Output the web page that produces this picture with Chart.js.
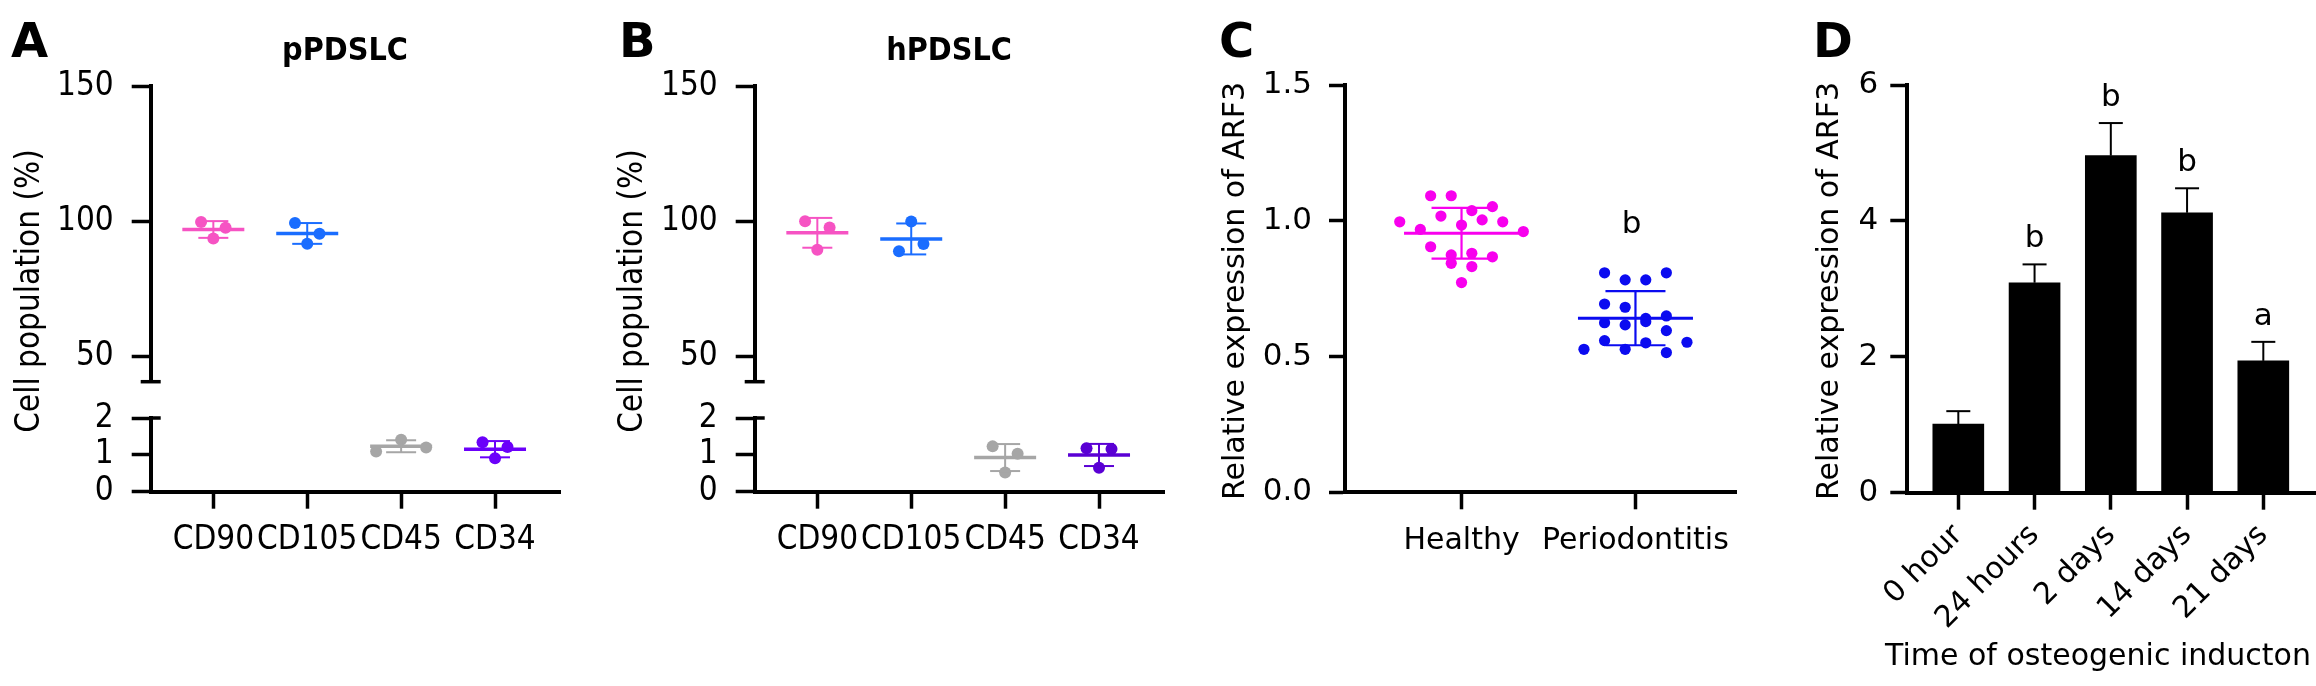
<!DOCTYPE html>
<html>
<head>
<meta charset="utf-8">
<title>ARF3 figure</title>
<script src="https://cdn.jsdelivr.net/npm/chart.js@4/dist/chart.umd.min.js"></script>
<style>
  html, body { margin: 0; padding: 0; background: #ffffff; }
  body { width: 2316px; height: 686px; position: relative; overflow: hidden; }
  .panel { position: absolute; top: 0; height: 686px; }
</style>
</head>
<body>
<div class="panel" style="left:0px;width:580px"><canvas id="aTop"></canvas></div>
<div class="panel" style="left:0px;width:580px"><canvas id="aBot"></canvas></div>
<div class="panel" style="left:604px;width:580px"><canvas id="bTop"></canvas></div>
<div class="panel" style="left:604px;width:580px"><canvas id="bBot"></canvas></div>
<div class="panel" style="left:1190px;width:560px"><canvas id="c"></canvas></div>
<div class="panel" style="left:1790px;width:526px"><canvas id="d"></canvas></div>
<script>
// ---------------- DATA ----------------
const AB_CATEGORIES = ['CD90', 'CD105', 'CD45', 'CD34'];
const A_CD90  = [99.6, 97.5, 93.5];
const A_CD105 = [99.3, 95.3, 91.6];
const A_CD45  = [1.09, 1.41, 1.20];
const A_CD34  = [1.34, 1.21, 0.91];
const B_CD90  = [99.9, 97.6, 89.4];
const B_CD105 = [99.8, 88.8, 91.5];
const B_CD45  = [1.23, 1.03, 0.52];
const B_CD34  = [1.18, 1.16, 0.65];
const AB_UPPER_TICKS = [50, 100, 150];
const AB_LOWER_TICKS = [0, 1, 2];

const C_CATEGORIES = ['Healthy', 'Periodontitis'];
const C_HEALTHY = [1.093, 1.093, 1.038, 1.053, 0.997, 0.969, 1.018, 0.985, 1.004, 0.997,
                   0.961, 0.905, 0.875, 0.844, 0.881, 0.832, 0.868, 0.773];
const C_PERIODONTITIS = [0.809, 0.783, 0.783, 0.809, 0.694, 0.682, 0.625, 0.641, 0.650,
                         0.617, 0.629, 0.596, 0.527, 0.559, 0.527, 0.551, 0.515, 0.553];
const C_TICKS = [0, 0.5, 1.0, 1.5];
const C_SIG = ['', 'b'];

const D_CATEGORIES = ['0 hour', '24 hours', '2 days', '14 days', '21 days'];
const D_MEANS = [1.01, 3.09, 4.96, 4.12, 1.94];
const D_SD    = [0.19, 0.27, 0.48, 0.36, 0.28];
const D_SIG   = ['', 'b', 'b', 'b', 'a'];
const D_TICKS = [0, 2, 4, 6];

// ---------------- STYLE ----------------
const F_COND = "'DejaVu Sans Condensed', 'DejaVu Sans', sans-serif";
const F_REG = "'DejaVu Sans', sans-serif";
const PINK = '#f653c3', BLUE = '#1a6dff', GREY = '#a6a6a6', VIOLET_A = '#6b00fa', VIOLET_B = '#5a00d4';
const MAGENTA = '#f800ee', ROYAL = '#0b0bf0';
const AB_STYLE = { meanHalf: 31, meanWidth: 3.5, errWidth: 2, capHalf: 15 };
const C_STYLE = { meanHalf: 57.5, meanWidth: 3, errWidth: 2.2, capHalf: 30 };

Chart.defaults.animation = false;
Chart.defaults.events = [];
Chart.defaults.responsive = true;
Chart.defaults.maintainAspectRatio = false;
Chart.defaults.color = '#000';
Chart.defaults.font.family = F_REG;
Chart.defaults.plugins.legend.display = false;
Chart.defaults.plugins.tooltip.enabled = false;

// ---------------- HELPERS ----------------
const mean = a => a.reduce((s, v) => s + v, 0) / a.length;
const sdev = a => { const m = mean(a); return Math.sqrt(a.reduce((s, v) => s + (v - m) * (v - m), 0) / (a.length - 1)); };
function seg(ctx, x1, y1, x2, y2, w) { ctx.lineWidth = w; ctx.beginPath(); ctx.moveTo(x1, y1); ctx.lineTo(x2, y2); ctx.stroke(); }

function yScale(o) {
  return {
    type: 'linear', position: 'left', min: o.min, max: o.max,
    afterBuildTicks: s => { s.ticks = o.ticks.map(v => ({ value: v })); },
    afterFit: s => { s.width = o.width; },
    grid: { display: true, drawOnChartArea: false, drawTicks: true, tickLength: o.tickLength, tickWidth: 3.5, tickColor: '#000' },
    border: { display: true, color: '#000', width: 4 },
    ticks: { color: '#000', font: { family: o.family, size: o.size }, padding: o.padding, autoSkip: false,
             callback: v => (o.decimals ? Number(v).toFixed(o.decimals) : String(v)) }
  };
}
function xScale(o) {
  return {
    type: 'linear', position: 'bottom', min: o.min, max: o.max, display: o.display !== false, offset: false,
    afterBuildTicks: s => { s.ticks = o.cats.map((c, i) => ({ value: i })); },
    afterFit: s => { if (o.height) s.height = o.height; },
    grid: { display: true, offset: false, drawOnChartArea: false, drawTicks: true, tickLength: o.tickLength || 17, tickWidth: 3.5, tickColor: '#000' },
    border: { display: true, color: '#000', width: 4 },
    ticks: { color: '#000', font: { family: o.family, size: o.size }, padding: o.padding || 0, autoSkip: false,
             maxRotation: o.rotation || 0, minRotation: o.rotation || 0, callback: v => o.cats[v] }
  };
}
const pointDataset = r => g => ({
  data: g.values.map(v => ({ x: g.index, y: v })),
  backgroundColor: g.color, borderColor: g.color, borderWidth: 0,
  pointRadius: r, pointHoverRadius: r, showLine: false
});

// GraphPad-like scatter arrangement: points whose pixel heights fall in one band share a row
function swarmOffsets(values, ys, step, rowSpan) {
  const items = values.map((v, i) => ({ i, py: ys.getPixelForValue(v) })).sort((a, b) => a.py - b.py || a.i - b.i);
  const off = values.map(() => 0);
  let k = 0;
  while (k < items.length) {
    const start = items[k].py, row = [];
    while (k < items.length && items[k].py - start < rowSpan) { row.push(items[k]); k++; }
    row.sort((a, b) => a.i - b.i);
    row.forEach((it, j) => { off[it.i] = (j - (row.length - 1) / 2) * step; });
  }
  return off;
}
function applySwarm(chart, groups, step, rowSpan) {
  const xs = chart.scales.x, ys = chart.scales.y;
  const ppu = xs.getPixelForValue(1) - xs.getPixelForValue(0);
  groups.forEach((g, d) => {
    const off = swarmOffsets(g.values, ys, step, rowSpan);
    chart.data.datasets[d].data = g.values.map((v, i) => ({ x: g.index + off[i] / ppu, y: v }));
  });
  chart.update('none');
}

function statsPlugin(groups, st) {
  return {
    id: 'meanSd',
    afterDatasetsDraw(chart) {
      const ctx = chart.ctx, xs = chart.scales.x, ys = chart.scales.y;
      groups.forEach(g => {
        const m = mean(g.values), s = sdev(g.values);
        const cx = xs.getPixelForValue(g.index);
        const ym = ys.getPixelForValue(m), yt = ys.getPixelForValue(m + s), yb = ys.getPixelForValue(m - s);
        ctx.save();
        ctx.strokeStyle = g.color; ctx.lineCap = 'butt';
        seg(ctx, cx - st.meanHalf, ym, cx + st.meanHalf, ym, st.meanWidth);
        seg(ctx, cx, yt, cx, yb, st.errWidth);
        seg(ctx, cx - st.capHalf, yt, cx + st.capHalf, yt, st.errWidth);
        seg(ctx, cx - st.capHalf, yb, cx + st.capHalf, yb, st.errWidth);
        ctx.restore();
      });
    }
  };
}
function breakCapPlugin(edge) {
  return {
    id: 'breakCap',
    afterDraw(chart) {
      const a = chart.chartArea, ctx = chart.ctx;
      const y = edge === 'bottom' ? a.bottom : a.top;
      ctx.save(); ctx.strokeStyle = '#000';
      seg(ctx, a.left - (edge === 'bottom' ? 10 : 0), y, a.left + 10, y, 3.5);
      ctx.restore();
    }
  };
}
function textPlugin(divLeft, items) {
  return {
    id: 'texts',
    afterDraw(chart) {
      const ctx = chart.ctx;
      items.forEach(t => {
        ctx.save();
        ctx.font = (t.bold ? 'bold ' : '') + t.size + 'px ' + t.family;
        ctx.fillStyle = '#000';
        ctx.textAlign = t.align || 'center';
        ctx.textBaseline = t.baseline || 'alphabetic';
        ctx.translate(t.x - divLeft, t.y);
        if (t.rotate) ctx.rotate(t.rotate);
        ctx.fillText(t.text, 0, 0);
        ctx.restore();
      });
    }
  };
}

// ---------------- PANELS A & B ----------------
const AB_X = { min: -0.667, max: 3.692 };
function buildAB(prefix, divLeft, groupsTop, groupsBottom, texts) {
  const top = new Chart(document.getElementById(prefix + 'Top'), {
    type: 'scatter',
    data: { datasets: groupsTop.map(pointDataset(6)) },
    options: {
      layout: { padding: { left: 40.7, right: 20, top: 86, bottom: 304.3 } },
      scales: {
        x: xScale({ ...AB_X, cats: AB_CATEGORIES, display: false }),
        y: yScale({ min: 40.5, max: 150, ticks: AB_UPPER_TICKS, width: 110, tickLength: 19, padding: 18, family: F_COND, size: 33 })
      }
    },
    plugins: [statsPlugin(groupsTop, AB_STYLE), breakCapPlugin('bottom'), textPlugin(divLeft, texts)]
  });
  const bot = new Chart(document.getElementById(prefix + 'Bot'), {
    type: 'scatter',
    data: { datasets: groupsBottom.map(pointDataset(6)) },
    options: {
      layout: { padding: { left: 40.7, right: 20, top: 418, bottom: 94.3 } },
      scales: {
        x: xScale({ ...AB_X, cats: AB_CATEGORIES, height: 100, padding: 12, family: F_COND, size: 33, tickLength: 17 }),
        y: yScale({ min: 0, max: 2, ticks: AB_LOWER_TICKS, width: 110, tickLength: 19, padding: 18, family: F_COND, size: 33 })
      }
    },
    plugins: [statsPlugin(groupsBottom, AB_STYLE), breakCapPlugin('top')]
  });
  applySwarm(top, groupsTop, 24.5, 15.5);
  applySwarm(bot, groupsBottom, 25, 15.5);
}

buildAB('a', 0,
  [{ index: 0, values: A_CD90, color: PINK }, { index: 1, values: A_CD105, color: BLUE }],
  [{ index: 2, values: A_CD45, color: GREY }, { index: 3, values: A_CD34, color: VIOLET_A }],
  [
    { text: 'A', x: 11, y: 57, size: 48, bold: true, family: F_REG, align: 'left' },
    { text: 'pPDSLC', x: 345, y: 60, size: 32, bold: true, family: F_COND },
    { text: 'Cell population (%)', x: 30.5, y: 291, size: 33, family: F_COND, rotate: -Math.PI / 2, baseline: 'middle' }
  ]);
buildAB('b', 604,
  [{ index: 0, values: B_CD90, color: PINK }, { index: 1, values: B_CD105, color: BLUE }],
  [{ index: 2, values: B_CD45, color: GREY }, { index: 3, values: B_CD34, color: VIOLET_B }],
  [
    { text: 'B', x: 619, y: 57, size: 48, bold: true, family: F_REG, align: 'left' },
    { text: 'hPDSLC', x: 949, y: 60, size: 32, bold: true, family: F_COND },
    { text: 'Cell population (%)', x: 633, y: 291, size: 33, family: F_COND, rotate: -Math.PI / 2, baseline: 'middle' }
  ]);

// ---------------- PANEL C ----------------
const C_GROUPS = [
  { index: 0, values: C_HEALTHY, color: MAGENTA },
  { index: 1, values: C_PERIODONTITIS, color: ROYAL }
];
const cSigPlugin = {
  id: 'cSig',
  afterDatasetsDraw(chart) {
    const ctx = chart.ctx, xs = chart.scales.x, ys = chart.scales.y;
    C_GROUPS.forEach((g, i) => {
      if (!C_SIG[i]) return;
      ctx.save();
      ctx.font = '31px ' + F_REG; ctx.fillStyle = '#000'; ctx.textAlign = 'center'; ctx.textBaseline = 'alphabetic';
      ctx.fillText(C_SIG[i], xs.getPixelForValue(g.index) - 4, ys.getPixelForValue(Math.max(...g.values)) - 40);
      ctx.restore();
    });
  }
};
const chartC = new Chart(document.getElementById('c'), {
  type: 'scatter',
  data: { datasets: C_GROUPS.map(pointDataset(5.6)) },
  options: {
    layout: { padding: { left: 45, right: 14, top: 85.3, bottom: 93.7 } },
    scales: {
      x: xScale({ min: -0.67, max: 1.578, cats: C_CATEGORIES, height: 100, padding: 14, family: F_REG, size: 30, tickLength: 17 }),
      y: yScale({ min: 0, max: 1.5, ticks: C_TICKS, width: 110, tickLength: 16, padding: 17, family: F_REG, size: 31, decimals: 1 })
    }
  },
  plugins: [statsPlugin(C_GROUPS, C_STYLE), cSigPlugin, textPlugin(1190, [
    { text: 'C', x: 1219, y: 57, size: 48, bold: true, family: F_REG, align: 'left' },
    { text: 'Relative expression of ARF3', x: 1236, y: 291, size: 30, family: F_REG, rotate: -Math.PI / 2, baseline: 'middle' }
  ])]
});
applySwarm(chartC, C_GROUPS, 20.6, 15.5);

// ---------------- PANEL D ----------------
const dErrPlugin = {
  id: 'dErr',
  afterDatasetsDraw(chart) {
    const ctx = chart.ctx, xs = chart.scales.x, ys = chart.scales.y;
    D_MEANS.forEach((m, i) => {
      const cx = xs.getPixelForValue(i), yTop = ys.getPixelForValue(m + D_SD[i]), yBar = ys.getPixelForValue(m);
      ctx.save(); ctx.strokeStyle = '#000';
      seg(ctx, cx, yBar, cx, yTop, 2);
      seg(ctx, cx - 12, yTop, cx + 12, yTop, 2);
      if (D_SIG[i]) {
        ctx.font = '31px ' + F_REG; ctx.fillStyle = '#000'; ctx.textAlign = 'center'; ctx.textBaseline = 'alphabetic';
        ctx.fillText(D_SIG[i], cx, yTop - 17);
      }
      ctx.restore();
    });
  }
};
new Chart(document.getElementById('d'), {
  type: 'bar',
  data: { datasets: [{ data: D_MEANS.map((v, i) => ({ x: i, y: v })), backgroundColor: '#000', borderWidth: 0, barThickness: 51 }] },
  options: {
    layout: { padding: { left: 37.3, right: 0, top: 85, bottom: 43.3 } },
    scales: {
      x: xScale({ min: -0.669, max: 4.691, cats: D_CATEGORIES, height: 150, padding: 8, family: F_REG, size: 30, rotation: 45, tickLength: 17 }),
      y: yScale({ min: 0, max: 6, ticks: D_TICKS, width: 80, tickLength: 17, padding: 12, family: F_REG, size: 31 })
    }
  },
  plugins: [dErrPlugin, textPlugin(1790, [
    { text: 'D', x: 1813, y: 57, size: 48, bold: true, family: F_REG, align: 'left' },
    { text: 'Relative expression of ARF3', x: 1830.5, y: 291, size: 30, family: F_REG, rotate: -Math.PI / 2, baseline: 'middle' },
    { text: 'Time of osteogenic inducton', x: 2098, y: 665, size: 30, family: F_REG }
  ])]
});
</script>
</body>
</html>
